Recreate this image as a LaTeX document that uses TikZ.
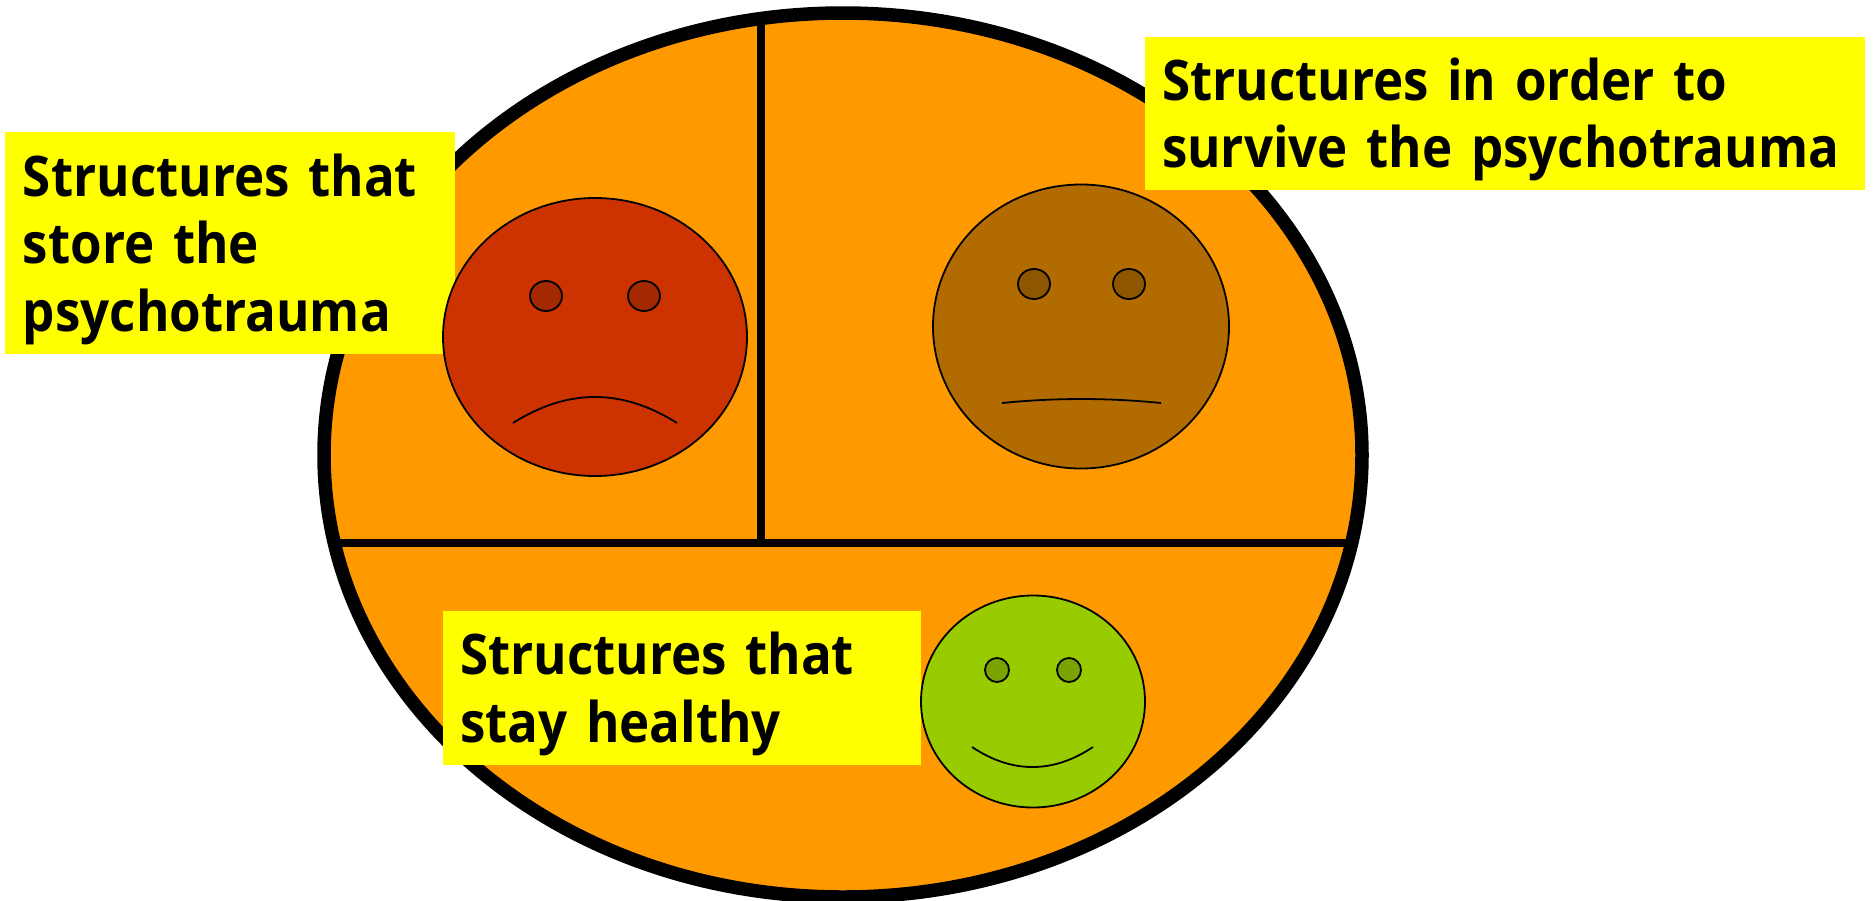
\documentclass[tikz,border=0pt]{standalone}
\usepackage{fontspec}
\setmainfont{Open Sans}[BoldFeatures={FakeStretch=0.912}]
\usetikzlibrary{shapes.geometric}
\definecolor{bigorange}{HTML}{FF9900}
\definecolor{sadface}{HTML}{CC3300}
\definecolor{sadeye}{HTML}{A32900}
\definecolor{midface}{HTML}{B26B00}
\definecolor{mideye}{HTML}{8F5600}
\definecolor{goodface}{HTML}{99CC00}
\definecolor{goodeye}{HTML}{7AA300}
\definecolor{labelyellow}{HTML}{FFFF00}
\tikzset{
  x=1pt,y=-1pt,
  oval/.style={ellipse,draw=black,inner sep=0pt,outer sep=0pt,line width=1.8pt},
  mouth/.style={draw=black,line width=1.8pt},
  divider/.style={draw=black,line width=8pt},
  label/.style={fill=labelyellow,inner sep=0pt,outer sep=0pt,anchor=north west,align=left,
    font=\fontsize{56}{67.5}\selectfont\bfseries},
}
\begin{document}
\begin{tikzpicture}
\useasboundingbox (0,0) rectangle (1874,900);
\clip (0,0) rectangle (1874,900);
\node[ellipse,fill=bigorange,inner sep=0pt,outer sep=0pt,minimum width=1038pt,minimum height=884pt] (main) at (843,455) {};
\coordinate (vtop) at (761,18);
\coordinate (vbot) at (761,543);
\coordinate (hl) at (334,543);
\coordinate (hr) at (1351,543);
\draw[divider] (vtop) -- (vbot);
\draw[divider] (hl) -- (hr);
\node[ellipse,draw=black,line width=13.5pt,inner sep=0pt,outer sep=0pt,minimum width=1038pt,minimum height=884pt] (ring) at (843,455) {};
% labels
\node[label,minimum width=450pt,minimum height=222pt,text width=450pt] (l1) at (5,132) {\hspace*{18pt}Structures that\\\hspace*{18pt}store the\\\hspace*{18pt}psychotrauma\vspace{-12pt}};
\node[label,minimum width=720pt,minimum height=153pt,text width=720pt] (l2) at (1145,37) {\hspace*{17pt}Structures in order to\\\hspace*{17pt}survive the psychotrauma\vspace{-12pt}};
\node[label,minimum width=478pt,minimum height=154pt,text width=478pt] (l3) at (443,611) {\hspace*{17pt}Structures that\\\hspace*{17pt}stay healthy\vspace{-12pt}};
% red face
\node[oval,fill=sadface,minimum width=304pt,minimum height=278pt] (f1) at (595,337) {};
\node[oval,fill=sadeye,minimum width=32pt,minimum height=30pt] (e1a) at (546,296) {};
\node[oval,fill=sadeye,minimum width=32pt,minimum height=30pt] (e1b) at (644,296) {};
\coordinate (m1a) at (513,423);
\coordinate (m1c) at (568,388.3);
\coordinate (m1d) at (622,388.3);
\coordinate (m1b) at (677,423);
\draw[mouth] (m1a) .. controls (m1c) and (m1d) .. (m1b);
% brown face
\node[oval,fill=midface,minimum width=296pt,minimum height=284pt] (f2) at (1081,326.5) {};
\node[oval,fill=mideye,minimum width=32pt,minimum height=30pt] (e2a) at (1034,284) {};
\node[oval,fill=mideye,minimum width=32pt,minimum height=30pt] (e2b) at (1129,284) {};
\coordinate (m2a) at (1002,403);
\coordinate (m2c) at (1055,397.7);
\coordinate (m2d) at (1108,397.7);
\coordinate (m2b) at (1161,403);
\draw[mouth] (m2a) .. controls (m2c) and (m2d) .. (m2b);
% green face
\node[oval,fill=goodface,minimum width=224pt,minimum height=212pt] (f3) at (1033,701.5) {};
\node[oval,fill=goodeye,minimum width=24pt,minimum height=24pt] (e3a) at (997,670) {};
\node[oval,fill=goodeye,minimum width=24pt,minimum height=24pt] (e3b) at (1069,670) {};
\coordinate (m3a) at (972,747);
\coordinate (m3c) at (1012,773.7);
\coordinate (m3d) at (1053,773.7);
\coordinate (m3b) at (1093,747);
\draw[mouth] (m3a) .. controls (m3c) and (m3d) .. (m3b);
\end{tikzpicture}
\end{document}
